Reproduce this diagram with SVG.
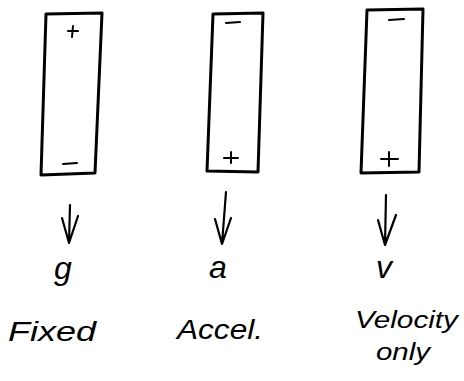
<svg xmlns="http://www.w3.org/2000/svg" width="464" height="381" viewBox="0 0 464 381">
<style>
.box{fill:none;stroke:#000;stroke-width:3;stroke-linejoin:round}
.mark{fill:none;stroke:#000;stroke-width:2;stroke-linecap:round}
.arr{fill:none;stroke:#000;stroke-width:2.2;stroke-linecap:round;stroke-linejoin:round}
.sym{font-family:"Liberation Sans",sans-serif;font-style:italic;font-size:32px;fill:#000}
.lbl{font-family:"Liberation Sans",sans-serif;font-style:italic;font-size:27px;fill:#000}
.lbl2{font-family:"Liberation Sans",sans-serif;font-style:italic;font-size:24px;fill:#000}
</style>
<rect width="464" height="381" fill="#fff"/>
<g id="plate-fixed">
<path class="box" d="M46,14 L102,13 L95,173 L41,175 Z"/>
<path class="mark" d="M68,31 L78,31 M73,26 L72,37"/>
<path class="mark" d="M63,164 L77,163"/>
</g>
<g id="plate-accel">
<path class="box" d="M213,14 L263,13 L258,172 L207,171 Z"/>
<path class="mark" d="M226,23 L240,22"/>
<path class="mark" d="M224,158 L238,158" stroke-width="3"/>
<path class="mark" d="M231,152 L231,163" stroke-width="1.2"/>
</g>
<g id="plate-velocity">
<path class="box" d="M367,10 L423,9 L419,172 L361,173 Z"/>
<path class="mark" d="M389,20 L404,19"/>
<path class="mark" d="M381,159 L398,159 M389,152 L389,166"/>
</g>
<g id="connectors">
<path class="arr" d="M70,205 L69,243 M62,218 L69,243 L78,216"/>
<path class="arr" d="M226,192 L222,244 M215,219 L222,244 L231,218"/>
<path class="arr" d="M386,195 L385,245 M378,220 L385,245 L396,215"/>
</g>
<g id="labels">
<text class="sym" x="54" y="279">g</text>
<text class="sym" x="209" y="278">a</text>
<text class="sym" x="376" y="278">v</text>
<text class="lbl" x="8" y="341" textLength="88" lengthAdjust="spacingAndGlyphs">Fixed</text>
<text class="lbl" x="177" y="339" textLength="86" lengthAdjust="spacingAndGlyphs">Accel.</text>
<text class="lbl2" x="355" y="328" textLength="103" lengthAdjust="spacingAndGlyphs">Velocity</text>
<text class="lbl2" x="376" y="360" textLength="54" lengthAdjust="spacingAndGlyphs">only</text>
</g>
</svg>
